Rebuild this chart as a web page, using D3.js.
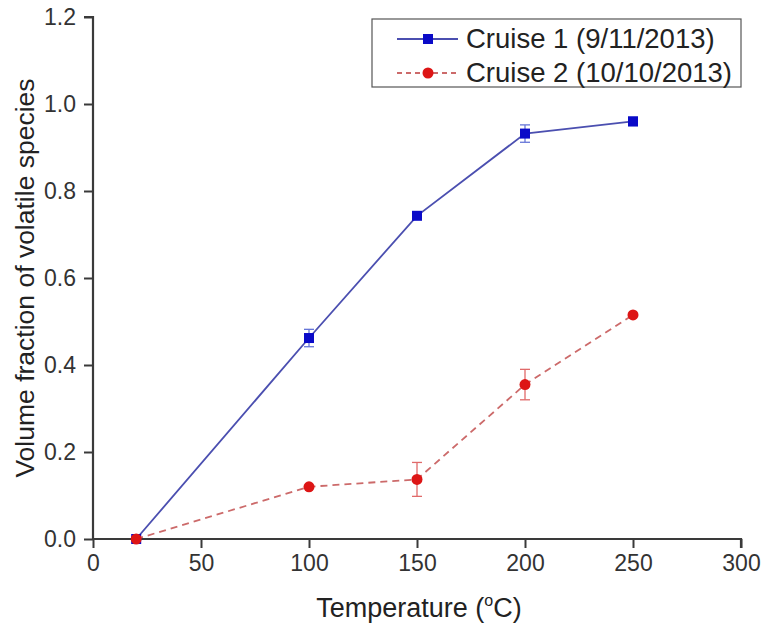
<!DOCTYPE html>
<html><head><meta charset="utf-8">
<script src="https://cdn.jsdelivr.net/npm/d3@7"></script>
<style>body{margin:0;background:#fff}svg{display:block}</style>
</head><body>
<script>
const temps = [20, 100, 150, 200, 250];
const cruise1 = [0, 0.462, 0.743, 0.932, 0.960];
const cruise1Err = [0, 0.020, 0.006, 0.020, 0.010];
const cruise2 = [0, 0.120, 0.137, 0.355, 0.515];
const cruise2Err = [0, 0.006, 0.039, 0.035, 0.006];
const seriesNames = ["Cruise 1 (9/11/2013)", "Cruise 2 (10/10/2013)"];
const xTicks = [0, 50, 100, 150, 200, 250, 300];
const yTicks = [0.0, 0.2, 0.4, 0.6, 0.8, 1.0, 1.2];

const W = 761, H = 628;
const m = {left: 93, right: 20, top: 17, bottom: 89};
const svg = d3.select("body").append("svg").attr("width", W).attr("height", H);
const x = d3.scaleLinear().domain([0, 300]).range([m.left, W - m.right]);
const y = d3.scaleLinear().domain([0, 1.2]).range([H - m.bottom, m.top]);

const font = "Liberation Sans, Arial, sans-serif";
const axisColor = "#3a3a3a";

// axes
const xAxis = svg.append("g").attr("transform", `translate(0,${y(0)})`)
  .call(d3.axisBottom(x).tickValues(xTicks).tickSize(9).tickPadding(4).tickFormat(d3.format("d")));
const yAxis = svg.append("g").attr("transform", `translate(${x(0)},0)`)
  .call(d3.axisLeft(y).tickValues(yTicks).tickSize(9).tickPadding(4).tickFormat(d3.format(".1f")));
[xAxis, yAxis].forEach(g => {
  g.select(".domain").attr("stroke", axisColor).attr("stroke-width", 2.2);
  g.selectAll(".tick line").attr("stroke", axisColor).attr("stroke-width", 2);
  g.selectAll(".tick text").attr("fill", "#333").style("font-family", font).style("font-size", "23px");
});
xAxis.selectAll(".tick text").attr("y", 16).attr("dy", "0.71em");
yAxis.selectAll(".tick text").attr("x", -17);
yAxis.select(".domain").attr("d", `M0,${y(0)}V${y(1.2)}H-9`);
xAxis.select(".domain").attr("d", `M${x(0)},0H${x(300)}V9`);

// axis titles
svg.append("text").attr("transform", `translate(${34},${y(0.6)}) rotate(-90)`)
  .attr("text-anchor", "middle").style("font-family", font).style("font-size", "26.5px").attr("fill", "#222")
  .text("Volume fraction of volatile species");
const xt = svg.append("text").attr("x", x(150) + 2).attr("y", 617).attr("text-anchor", "middle")
  .style("font-family", font).style("font-size", "27px").attr("fill", "#222");
xt.append("tspan").text("Temperature (");
xt.append("tspan").text("o").attr("dy", -11).style("font-size", "16px");
xt.append("tspan").text("C)").attr("dy", 11);

const series = [
  {vals: cruise1, err: cruise1Err, line: "#4b4fb0", mark: "#0a0ac8", errC: "#6676d8", dash: null, shape: "square"},
  {vals: cruise2, err: cruise2Err, line: "#cc6a6a", mark: "#dd1515", errC: "#e06a6a", dash: "7,5", shape: "circle"}
];

series.forEach(s => {
  const pts = temps.map((t, i) => ({t, v: s.vals[i], e: s.err[i]}));
  svg.append("path").datum(pts)
    .attr("d", d3.line().x(d => x(d.t)).y(d => y(d.v)))
    .attr("fill", "none").attr("stroke", s.line).attr("stroke-width", 1.8)
    .attr("stroke-dasharray", s.dash);
  const eb = svg.append("g").attr("stroke", s.errC).attr("stroke-width", 1.3);
  pts.filter(d => d.e > 0.008).forEach(d => {
    eb.append("line").attr("x1", x(d.t)).attr("x2", x(d.t)).attr("y1", y(d.v - d.e)).attr("y2", y(d.v + d.e));
    [d.v - d.e, d.v + d.e].forEach(v => eb.append("line").attr("x1", x(d.t) - 5).attr("x2", x(d.t) + 5).attr("y1", y(v)).attr("y2", y(v)));
  });
  pts.forEach(d => {
    if (s.shape === "square")
      svg.append("rect").attr("x", x(d.t) - 5).attr("y", y(d.v) - 5).attr("width", 10).attr("height", 10).attr("fill", s.mark);
    else
      svg.append("circle").attr("cx", x(d.t)).attr("cy", y(d.v)).attr("r", 5.5).attr("fill", s.mark);
  });
});

// legend
const lg = svg.append("g");
lg.append("rect").attr("x", 372).attr("y", 19).attr("width", 369).attr("height", 68)
  .attr("fill", "#fff").attr("stroke", "#555").attr("stroke-width", 1.2);
series.forEach((s, i) => {
  const yy = 39 + i * 34;
  lg.append("line").attr("x1", 397).attr("x2", 458).attr("y1", yy).attr("y2", yy)
    .attr("stroke", s.line).attr("stroke-width", 1.8).attr("stroke-dasharray", s.dash ? "5,4" : null);
  if (s.shape === "square")
    lg.append("rect").attr("x", 423).attr("y", yy - 5).attr("width", 10).attr("height", 10).attr("fill", s.mark);
  else
    lg.append("circle").attr("cx", 428).attr("cy", yy).attr("r", 5.5).attr("fill", s.mark);
  lg.append("text").attr("x", 466).attr("y", yy + 9).style("font-family", font).style("font-size", "27.5px")
    .attr("fill", "#222").text(seriesNames[i]);
});
</script>
</body></html>
